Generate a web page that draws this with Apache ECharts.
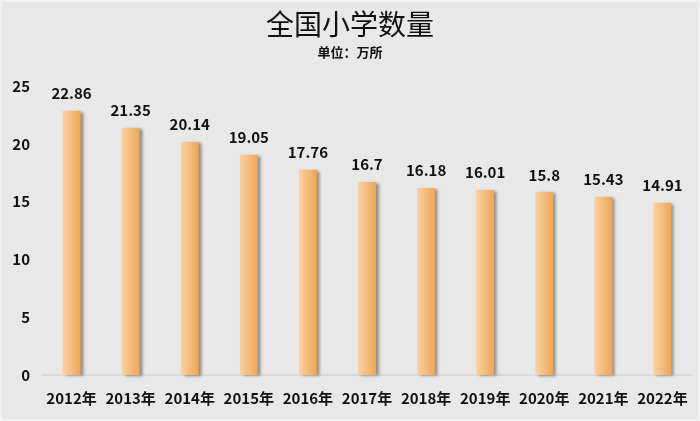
<!DOCTYPE html>
<html><head><meta charset="utf-8">
<script src="https://cdn.jsdelivr.net/npm/echarts@6/dist/echarts.min.js"></script>
<style>
html,body{margin:0;padding:0;background:#f2f2f2;}
#c{position:absolute;left:2px;top:2px;width:696px;height:417px;background:#e8e8e8;}
</style></head>
<body><div id="c"></div>
<script>
var categories = ['2012年','2013年','2014年','2015年','2016年','2017年','2018年','2019年','2020年','2021年','2022年'];
var schools = [22.86, 21.35, 20.14, 19.05, 17.76, 16.7, 16.18, 16.01, 15.8, 15.43, 14.91];
var yTicks = {min: 0, max: 25, interval: 5};

var chart = echarts.init(document.getElementById('c'));
var font = '"Noto Sans CJK SC", "Open Sans", sans-serif';
chart.setOption({
  backgroundColor: '#e8e8e8',
  animation: false,
  title: {
    text: '全国小学数量',
    subtext: '单位：万所',
    left: 'center',
    top: 3,
    itemGap: 8,
    textStyle: {fontFamily: font, fontSize: 28, fontWeight: 'normal', color: '#111'},
    subtextStyle: {fontFamily: font, fontSize: 13, fontWeight: 'bold', color: '#111'}
  },
  grid: {left: 40, right: 6, top: 84, bottom: 44},
  xAxis: {
    type: 'category',
    data: categories,
    axisLine: {lineStyle: {color: '#d4d4d4', width: 1.5}},
    axisTick: {show: false},
    axisLabel: {fontFamily: font, fontSize: 15, fontWeight: 'bold', color: '#111', margin: 16, interval: 0}
  },
  yAxis: {
    type: 'value',
    min: yTicks.min, max: yTicks.max, interval: yTicks.interval,
    splitLine: {show: false},
    axisLine: {show: false},
    axisTick: {show: false},
    axisLabel: {fontFamily: font, fontSize: 15, fontWeight: 'bold', color: '#111', margin: 12}
  },
  series: [{
    type: 'bar',
    data: schools,
    barWidth: 18,
    itemStyle: {
      color: new echarts.graphic.LinearGradient(0, 0, 1, 0, [
        {offset: 0, color: '#f8d2a4'},
        {offset: 1, color: '#f0a552'}
      ]),
      shadowColor: 'rgba(0,0,0,0.4)',
      shadowBlur: 3,
      shadowOffsetX: 3,
      shadowOffsetY: 1
    },
    label: {
      show: true, position: 'top', distance: 10,
      fontFamily: font, fontSize: 15, fontWeight: 'bold', color: '#111'
    }
  }]
});
</script></body></html>
